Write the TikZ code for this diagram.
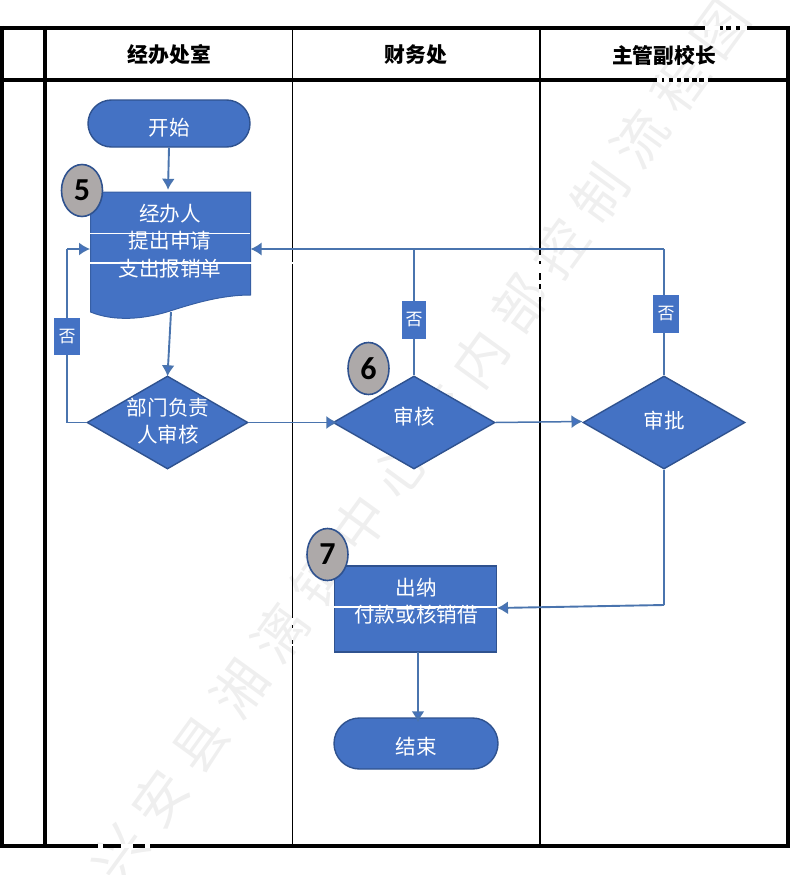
\documentclass[tikz,border=0pt]{standalone}
\usepackage{fontspec}
\usetikzlibrary{arrows.meta,shapes.geometric,shapes.misc,positioning}
\newfontfamily\cjk{Noto Sans CJK SC}
\newfontfamily\wmfont[LetterSpace=26]{Noto Sans CJK SC}
\setmainfont{Carlito}
\definecolor{boxblue}{HTML}{4472C4}
\definecolor{boxedge}{HTML}{2F528F}
\definecolor{flow}{HTML}{4A74AE}
\definecolor{badgegrey}{HTML}{ADA9A9}
\definecolor{wmark}{HTML}{EFEFEF}
\tikzset{
  x=1pt,y=-1pt,
  heavy/.style={black,line width=4pt},
  medium/.style={black,line width=2pt},
  thinrule/.style={black,line width=0.9pt},
  headtext/.style={font=\cjk\bfseries\fontsize{20.8}{24}\selectfont,text=black,inner sep=0pt},
  bodytext/.style={font=\cjk\fontsize{20.6}{27.5}\selectfont,text=white,align=center,inner sep=0pt},
  terminal/.style={rounded rectangle,fill=boxblue,draw=boxedge,line width=1.4pt,inner sep=0pt},
  decision/.style={diamond,fill=boxblue,draw=boxedge,line width=1.4pt,inner sep=0pt,aspect=1.74},
  process/.style={rectangle,fill=boxblue,draw=boxedge,line width=1.2pt,inner sep=0pt},
  badge/.style={ellipse,fill=badgegrey,draw=boxedge,line width=1.6pt,inner sep=0pt,minimum width=41pt,minimum height=52pt,text=black,font=\bfseries\fontsize{32}{32}\selectfont},
  nolabel/.style={rectangle,fill=boxblue,inner sep=0pt,text=white,font=\cjk\fontsize{17}{20}\selectfont},
  flowline/.style={flow,line width=1.9pt},
  flowthin/.style={flow,line width=1.5pt},
  flowarrow/.style={flow,line width=1.9pt,-{Latex[length=11pt,width=13pt,fill=boxblue]}},
  flowarrowthin/.style={flow,line width=1.5pt,-{Latex[length=11pt,width=13pt,fill=boxblue]}},
  scratch/.style={white,line width=1.4pt},
}
\begin{document}
\begin{tikzpicture}
\useasboundingbox (0,0) rectangle (791,875);
% watermark
\node[rotate=54,inner sep=0pt,text=wmark,font=\wmfont\fontsize{54}{58}\selectfont] (mark) at (420,441) {兴安县湘漓镇中心校内部控制流程图};
% table
\draw[heavy] (0,28) -- (790,28);
\draw[heavy] (0,80) -- (790,80);
\draw[heavy] (0,846) -- (790,846);
\draw[heavy] (2,26) -- (2,848);
\draw[heavy] (45,26) -- (45,848);
\draw[heavy] (788,26) -- (788,848);
\draw[thinrule] (292.5,28) -- (292.5,846);
\draw[medium] (540,28) -- (540,846);
\node[headtext] (h1) at (169.5,55) {经办处室};
\node[headtext] (h2) at (416,55) {财务处};
\node[headtext] (h3) at (664,55) {主管副校长};
% document shape
\path[fill=boxblue,draw=boxedge!60!boxblue,line width=1pt] (90.5,192) -- (250.5,192) -- (250.5,295)
  .. controls (222,295) and (195,303) .. (170,311) .. controls (145,319) and (115,322) .. (90.5,312) -- cycle;
\node[rectangle,minimum width=160pt,minimum height=120pt,inner sep=0pt] (doc) at (170.5,252) {};
% shapes
\node[terminal,minimum width=162pt,minimum height=47pt] (start) at (169,123.5) {};
\node[bodytext] (starttext) at (169,128) {开始};
\node[decision,minimum width=161pt,minimum height=93pt] (dept) at (167.5,422.5) {};
\node[decision,minimum width=162pt,minimum height=93pt] (audit) at (414,422.5) {};
\node[decision,minimum width=162pt,minimum height=93pt] (approve) at (664,422.5) {};
\node[process,minimum width=162pt,minimum height=86pt] (pay) at (415.5,609) {};
\node[terminal,minimum width=164pt,minimum height=51pt] (end) at (416,743.5) {};
\coordinate (backleft) at (67,249);
\coordinate (backaudit) at (414,249);
\coordinate (backright) at (664,249);
\coordinate (downright) at (664,605);
% connectors
\draw[flowarrow] (start.south) -- ([xshift=-2.5pt,yshift=2pt]doc.north);
\draw[flowarrow] ([xshift=0.5pt]doc.south) -- ([yshift=-1pt]dept.north);
\draw[flowthin] (dept.west) -| (backleft);
\draw[flowarrowthin] (backleft) -- (90,249);
\draw[flowarrowthin] (dept.east) -- ([xshift=5pt]audit.west);
\draw[flowarrowthin] (audit.east) -- (582.5,421.5);
\draw[flowline] (audit.north) -- (backaudit);
\draw[flowline] (approve.north) -- (backright);
\draw[flowarrowthin] (backright) -- (250.5,249);
\draw[flowline] (approve.south) -- (downright);
\draw[flowarrow] (downright) -- (497,608);
\draw[flowarrow] (418,652) -- ([xshift=2pt,yshift=-5pt]end.north);
% no labels
\node[nolabel,minimum width=26pt,minimum height=37pt] (no1) at (67,336.5) {否};
\node[nolabel,minimum width=24pt,minimum height=38pt] (no2) at (414,320) {否};
\node[nolabel,minimum width=26pt,minimum height=38pt] (no3) at (666,314) {否};
% shape labels
\node[bodytext] (doctext) at (170,241) {经办人\\提出申请\\支出报销单};
\node[bodytext] (depttext) at (168,421) {部门负责\\人审核};
\node[bodytext] (audittext) at (414,417) {审核};
\node[bodytext] (approvetext) at (664,421) {审批};
\node[bodytext] (paytext) at (416,601) {出纳\\付款或核销借};
\node[bodytext] (endtext) at (416,747) {结束};
% scan scratches
\draw[scratch,line width=1pt] (90,233) -- (250,233);
\draw[scratch] (90,263) -- (293,263);
\draw[scratch] (334,607) -- (497,607);
% badges
\node[badge] (b5) at (82,190.5) {5};
\node[badge] (b6) at (368.5,368.5) {6};
\node[badge] (b7) at (327.5,554.5) {7};
% watermark nicks in the rules
\draw[white,line width=2.6pt,dash pattern=on 6pt off 3pt on 9pt off 7pt on 4pt off 5pt on 8pt off 4pt] (540,255) -- (540,300);
\draw[white,line width=1.6pt,dash pattern=on 7pt off 3pt on 12pt off 4pt] (292.5,618) -- (292.5,646);
\draw[white,line width=4.4pt,dash pattern=on 15pt off 3pt on 3pt off 5pt on 5pt off 4pt on 7pt] (705,28) -- (747,28);
\draw[white,line width=4.4pt,dash pattern=on 5pt off 2pt on 5pt off 4pt on 4pt off 4pt on 3pt off 5pt on 3pt] (657,80) -- (710,80);
\draw[white,line width=4.4pt,dash pattern=on 5pt off 18pt on 12pt off 12pt on 5pt] (98,846) -- (150,846);
\draw[white,line width=1.4pt] (675,50) -- (672,60);
\end{tikzpicture}
\end{document}
